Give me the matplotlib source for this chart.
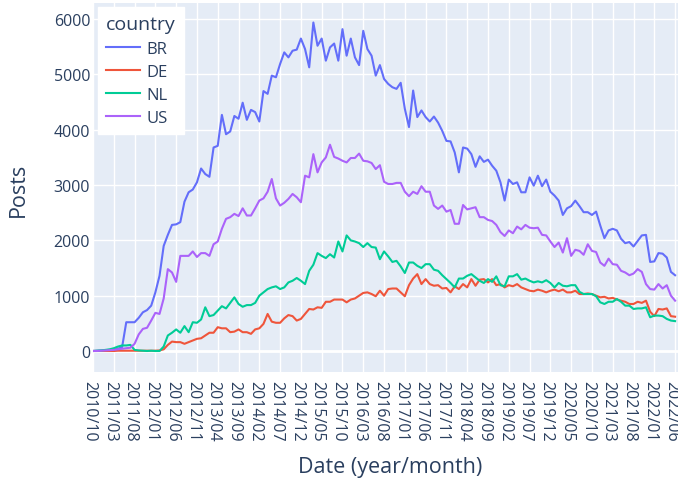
import matplotlib
matplotlib.use("Agg")
import matplotlib.pyplot as plt
import matplotlib.transforms as mtransforms
import pandas as pd

# monthly posts per country, 2010/10 .. 2022/06
br = [0, 5, 10, 15, 20, 30, 40, 70,
      520, 520, 520, 600, 700, 740, 820, 1060, 1360, 1900, 2100, 2280, 2290, 2330, 2700, 2870,
      2920, 3050, 3300, 3200, 3150, 3680, 3710, 4270, 3920, 3970, 4250, 4200, 4490, 4180, 4360, 4320,
      4150, 4700, 4650, 4980, 4950, 5190, 5400,
      5310, 5430, 5450, 5650, 5460, 5130, 5940, 5520, 5650, 5250, 5490, 5560, 5250, 5820, 5340, 5650,
      5310, 5170, 5790, 5460, 5340, 4980, 5170,
      4920, 4830, 4770, 4740, 4850, 4380, 4050, 4710, 4230, 4350, 4230, 4150, 4240, 4130, 3980, 3800,
      3790, 3590, 3230, 3680, 3660,
      3560, 3330, 3520, 3420, 3460, 3350, 3260, 3050, 2720, 3100, 3020, 3050, 2870, 2870, 3140, 2990,
      3170, 2980, 3100, 2880, 2810, 2720,
      2460, 2580, 2620, 2720, 2620, 2510, 2510, 2460, 2520, 2270, 2040, 2180, 2210, 2180, 2030, 1950,
      1970, 1890, 1990, 2090, 2100, 1610, 1620, 1770, 1760, 1690, 1430, 1370]

de = [0, 0, 0, 0, 0, 0, 5, 5, 5, 5, 5, 5, 5, 5, 5, 5, 10,
      30, 110, 170, 160, 160, 130, 160, 190, 220, 230, 280, 330, 330, 430, 410, 410, 340, 350, 390, 340,
      340, 310, 390, 410, 490, 670, 530, 510, 510, 590, 650, 630, 550, 580, 670, 760, 750, 790, 780, 890,
      890, 930, 930, 930, 880, 930, 950, 1000, 1050,
      1060, 1030, 990, 1090, 1000, 1120, 1130, 1130, 1060, 990, 1190, 1310, 1390, 1210, 1300, 1210,
      1180, 1190, 1130, 1140, 1060, 1170, 1120, 1210, 1150, 1300, 1180, 1290, 1300, 1240, 1300, 1190,
      1210, 1150, 1190, 1170, 1210, 1150, 1120, 1090, 1080, 1110, 1090, 1060, 1090, 1110, 1080, 1110,
      1060, 1060, 1090, 1030, 1030, 1040, 1030, 1000, 970, 980, 950, 960, 930, 910, 890, 850,
      850, 890, 870, 910, 710, 630, 760, 750, 770, 630, 620]

nl = [0, 5, 10, 20, 30, 50, 80, 100, 100, 110, 20, 10, 5, 0, 5, 0, 0, 80,
      280, 330, 390, 330, 450, 340, 520, 510, 570, 790, 630, 650, 730, 810, 770, 870, 970, 850,
      800, 830, 830, 870, 1000, 1060, 1120, 1150, 1170, 1120, 1150, 1240, 1270, 1320, 1270, 1210,
      1450, 1560, 1770, 1720, 1680, 1750, 1690, 1980, 1800, 2090, 2000, 1980, 1950, 1880,
      1950, 1880, 1870, 1660, 1800, 1710, 1610, 1630, 1530, 1410, 1600, 1600, 1540, 1500, 1570, 1570,
      1470, 1450, 1370, 1300, 1230, 1150, 1310, 1310, 1360, 1390, 1330, 1270, 1230, 1300, 1250, 1350,
      1190, 1170, 1350, 1350, 1390, 1290, 1310, 1270, 1240, 1260, 1240, 1280, 1230, 1150, 1230, 1180,
      1170, 1190, 1190, 1070, 1030, 1030, 1030, 990, 880, 850, 890, 890, 940, 890, 820, 820,
      760, 770, 770, 790, 610, 640, 640, 630, 580, 550, 540]

us = [0, 0, 5, 10, 15, 20, 30, 40, 50, 60, 130,
      300, 400, 420, 550, 690, 670, 950, 1480, 1420, 1250, 1720,
      1720, 1720, 1800, 1700, 1770, 1770, 1720, 1930, 1980, 2210, 2390, 2420, 2480, 2440, 2580, 2450,
      2450, 2580, 2720, 2760, 2880, 3110, 2760, 2630, 2680,
      2750, 2840, 2780, 2690, 3170, 3140, 3560, 3230, 3410, 3500, 3730, 3510, 3480, 3440, 3410, 3490,
      3490, 3570, 3440, 3430, 3400, 3290, 3360,
      3060, 3020, 3020, 3040, 3040, 2880, 2800, 2880, 2840, 2980, 2880, 2880, 2630, 2570, 2630, 2520,
      2550, 2300, 2300, 2640, 2560, 2580, 2600,
      2420, 2420, 2370, 2350, 2280, 2150, 2080, 2180, 2130, 2250, 2200, 2280, 2230, 2220, 2230, 2100,
      2090, 1980, 1880, 1960,
      1780, 2040, 1720, 1830, 1810, 1740, 1930, 1810, 1790, 1600, 1540, 1670, 1570, 1560, 1450, 1420,
      1370, 1400, 1480, 1430, 1210, 1120, 1110, 1210, 1130, 1190, 1000, 910]

countries = ["BR", "DE", "NL", "US"]
colors = ["#636efa", "#EF553B", "#00cc96", "#ab63fa"]

months = pd.date_range("2010-10-01", periods=len(br), freq="MS").strftime("%Y/%m").tolist()

plt.rcParams["font.family"] = ["Open Sans", "DejaVu Sans"]
txt = "#2a3f5f"

W, H = 678, 481
fig = plt.figure(figsize=(W / 100, H / 100), dpi=100)
ax = fig.add_axes([93 / W, 1 - 373 / H, 1 - 93 / W, (373 - 4) / H])
ax.set_facecolor("#E5ECF6")
for s in ax.spines.values():
    s.set_visible(False)

x = list(range(len(months)))
for name, vals, c in zip(countries, [br, de, nl, us], colors):
    ax.plot(x, vals, color=c, lw=1.5, label=name, zorder=3)

ax.set_xlim(0, len(months) - 0.3)
ax.set_ylim(-380, 6293)
ax.set_xticks(x[::5])
ax.set_xticklabels(months[::5], rotation=-90, ha="center", va="top")
ax.set_yticks(range(0, 6001, 1000))
ax.grid(True, color="white", lw=1, zorder=0)
ax.set_axisbelow(True)
ax.axhline(0, color="white", lw=2, zorder=1)
ax.tick_params(length=0, labelsize=11.5, labelcolor=txt)
ax.tick_params(axis="y", pad=2)
ax.tick_params(axis="x", pad=6)

# plotly-like anchoring of rotated labels: a few pixels left of the tick
shift = mtransforms.ScaledTranslation(-4 / 100, 0, fig.dpi_scale_trans)
for lab in ax.get_xticklabels():
    lab.set_transform(lab.get_transform() + shift)

fig.text(18 / W, 1 - 190 / H, "Posts", rotation=90, ha="center", va="center",
         fontsize=15.5, color=txt)
fig.text(390 / W, 1 - 468 / H, "Date (year/month)", ha="center", va="center",
         fontsize=15.5, color=txt)

leg = ax.legend(title="country", loc="upper left", bbox_to_anchor=(98 / W, 1 - 8 / H),
                bbox_transform=fig.transFigure, borderaxespad=0, fontsize=12,
                title_fontsize=14, frameon=True, fancybox=False, handlelength=2.0,
                handletextpad=0.4, labelspacing=0.43, borderpad=0.5, alignment="left")
leg.get_frame().set_facecolor("white")
leg.get_frame().set_edgecolor("white")
leg.get_frame().set_alpha(1)
for t in leg.get_texts():
    t.set_color(txt)
leg.get_title().set_color(txt)

fig.savefig("out.png", dpi=100)
